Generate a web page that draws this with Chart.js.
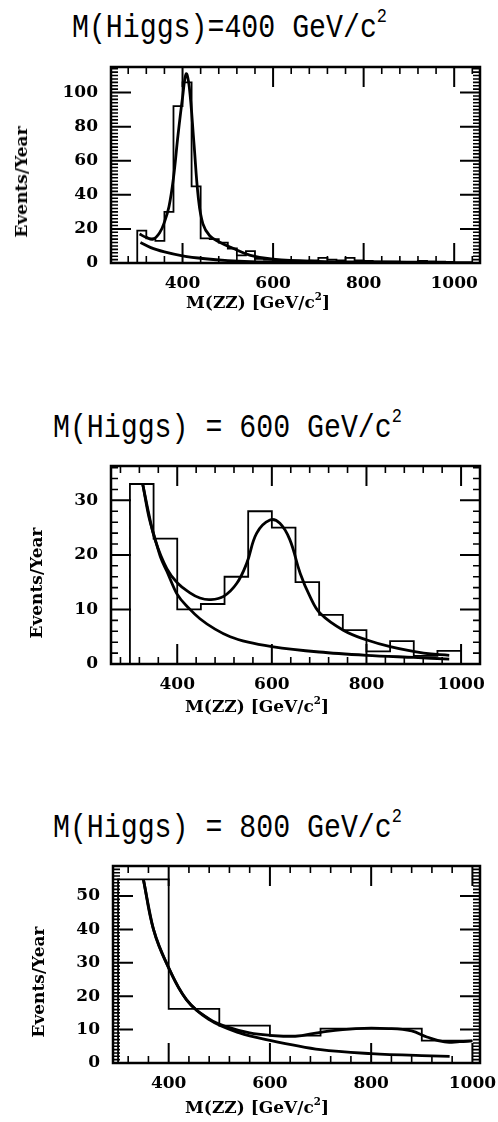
<!DOCTYPE html>
<html>
<head>
<meta charset="utf-8">
<script src="https://cdn.jsdelivr.net/npm/chart.js@4.4.1/dist/chart.umd.min.js"></script>
<style>
  html, body { margin: 0; padding: 0; background: #fff; }
  #page { position: relative; width: 498px; height: 1122px; overflow: hidden; background: #fff; }
  .panel { position: absolute; left: 0; width: 498px; height: 300px; }
  .titre { position: absolute; font-family: "Liberation Mono", "Courier New", monospace; font-size: 34px;
           line-height: 34px; white-space: nowrap; color: #000; transform: scaleX(0.83); transform-origin: 0 0; }
  .titre sup, .axe sup { font-size: 0.6em; vertical-align: baseline; position: relative; top: -0.75em; }
  .axe { position: absolute; font-family: "DejaVu Serif", serif; font-weight: bold; font-size: 17px;
         line-height: 20px; white-space: nowrap; color: #000; transform: translate(-50%, -50%); }
  .axe.vert { transform: translate(-50%, -50%) rotate(-90deg); }
</style>
</head>
<body>
<div id="page">
  <div class="titre" style="left:72px; top:11px;">M(Higgs)=400 GeV/c<sup>2</sup></div>
  <div class="titre" style="left:53px; top:411px;">M(Higgs) = 600 GeV/c<sup>2</sup></div>
  <div class="titre" style="left:53px; top:811px;">M(Higgs) = 800 GeV/c<sup>2</sup></div>

  <div class="panel" style="top:0px;"><canvas id="h400" width="498" height="300"></canvas></div>
  <div class="panel" style="top:400px;"><canvas id="h600" width="498" height="300"></canvas></div>
  <div class="panel" style="top:800px;"><canvas id="h800" width="498" height="300"></canvas></div>

  <div class="axe vert" style="left:21px; top:182px;">Events/Year</div>
  <div class="axe vert" style="left:36px; top:583px;">Events/Year</div>
  <div class="axe vert" style="left:38px; top:982px;">Events/Year</div>
  <div class="axe" style="left:258px; top:303px;">M(ZZ) [GeV/c<sup>2</sup>]</div>
  <div class="axe" style="left:257px; top:707px;">M(ZZ) [GeV/c<sup>2</sup>]</div>
  <div class="axe" style="left:257px; top:1108px;">M(ZZ) [GeV/c<sup>2</sup>]</div>
</div>

<script>
// ---- etiquettes des axes
const xLabels = [400, 600, 800, 1000];
const yLabels400 = [0, 20, 40, 60, 80, 100];
const yLabels600 = [0, 10, 20, 30];
const yLabels800 = [0, 10, 20, 30, 40, 50];

// ---- M(Higgs) = 400 : histogramme (bords des bins, 20 GeV) et ajustements
const edges400 = [300, 320, 340, 360, 380, 400, 420, 440, 460, 480, 500, 520, 540, 560, 580, 600, 620, 640, 660,
                  680, 700, 720, 740, 760, 780, 800, 820, 840, 860, 880, 900, 920, 940, 960, 980, 1000, 1020, 1040];
const counts400 = [19, 14.5, 13, 30, 92, 106, 45, 14.5, 14, 12, 8.5, 4.5, 7, 2.5, 2, 1.5, 1.5, 1.2, 1.2,
                   1.5, 3, 2, 1.5, 3, 1.5, 1.2, 1, 1, 1, 0.8, 0.8, 1.2, 1, 0.8, 0.6, 0.5, 0.5];
const fitMass400 = [305, 320, 335, 350, 360, 370, 380, 390, 400, 408, 415, 425, 435, 445, 460, 480, 510, 550, 600, 700, 800, 900, 1000];
const fitTotal400 = [17, 15, 14, 18, 24, 33, 50, 75, 97, 111, 103, 71, 38, 23, 16, 12.5, 8.8, 4.5, 2.2, 0.9, 0.6, 0.4, 0.3];
const bgMass400 = [307, 330, 360, 400, 450, 500, 550, 600, 700, 800, 900, 1000];
const bgFit400 = [12, 9, 6.5, 4.2, 2.5, 1.4, 0.8, 0.6, 0.4, 0.3, 0.2, 0.2];

// ---- M(Higgs) = 600 : bins de 50 GeV
const edges600 = [300, 350, 400, 450, 500, 550, 600, 650, 700, 750, 800, 850, 900, 950, 1000];
const counts600 = [33, 23, 10, 11, 16, 28, 25, 15, 9, 6.2, 2.3, 4.2, 1.5, 2.4];
const fitMass600 = [327, 340, 353, 378, 401, 426, 448, 470, 498, 526, 547, 568, 596, 617, 638, 660, 681, 702, 751, 801, 850, 921, 975];
const fitTotal600 = [33, 27.5, 22.8, 17.5, 14.8, 13.1, 12.1, 11.8, 12.4, 14.8, 18.5, 24, 26.4, 25.8, 22.8, 16.6, 12.3, 9.3, 6.2, 4.4, 3.2, 2, 1.6];
const bgMass600 = [327, 340, 353, 365, 378, 399, 425, 448, 480, 512, 550, 600, 700, 800, 900, 975];
const bgFit600 = [33, 27, 23, 19.5, 17, 12.9, 10.2, 8.3, 6.4, 5, 4, 3.2, 2.2, 1.6, 1.2, 0.9];

// ---- M(Higgs) = 800 : bins de 100 GeV
const edges800 = [300, 400, 500, 600, 700, 800, 900, 1000];
const counts800 = [55, 16.2, 11.2, 8.2, 10.3, 10.3, 6.7];
const fitMass800 = [350, 370, 400, 435, 480, 520, 560, 600, 650, 700, 770, 835, 880, 910, 945, 975, 1000];
const fitTotal800 = [55, 40, 28.5, 19, 13.2, 10.6, 9, 8.3, 8, 9.2, 10.3, 10.3, 9.6, 7.8, 6.3, 6.4, 6.6];
const bgMass800 = [350, 370, 400, 435, 480, 540, 600, 700, 800, 900, 955];
const bgFit800 = [55, 40, 28.5, 19, 13, 9, 6.8, 4, 2.8, 2.2, 2];

// HISTOGRAMME EN ESCALIER : on part de zero au premier bord
function histPoints(edges, counts) {
    let pts = [{x: edges[0], y: 0}];
    counts.forEach((c, i) => pts.push({x: edges[i], y: c}));
    pts.push({x: edges[edges.length - 1], y: counts[counts.length - 1]});
    return pts;
}
function zipPoints(xs, ys) {
    return xs.map((x, i) => ({x: x, y: ys[i]}));
}

// CADRE + PETITS TRAITS VERS L'INTERIEUR (sur les 4 cotes)
const cadre = {
    id: 'cadre',
    afterDatasetsDraw(chart, args, opts) {
        const {ctx, chartArea: a, scales: {x, y}} = chart;
        ctx.save();
        ctx.strokeStyle = '#000';
        const nx0 = Math.ceil(x.min / opts.xMinor), nx1 = Math.floor(x.max / opts.xMinor);
        for (let n = nx0; n <= nx1; n++) {
            const v = n * opts.xMinor;
            const px = x.getPixelForValue(v);
            const major = v % opts.xMajor === 0;
            const len = major ? opts.majorLen : opts.minorLen;
            ctx.lineWidth = major ? 2 : 1.6;
            ctx.beginPath();
            ctx.moveTo(px, a.bottom); ctx.lineTo(px, a.bottom - len);
            ctx.moveTo(px, a.top); ctx.lineTo(px, a.top + len);
            ctx.stroke();
        }
        const ny1 = Math.floor(y.max / opts.yMinor);
        for (let n = 0; n <= ny1; n++) {
            const v = n * opts.yMinor;
            const py = y.getPixelForValue(v);
            const major = v % opts.yMajor === 0;
            const len = major ? opts.majorLen : opts.minorLen;
            ctx.lineWidth = major ? 2 : 1.6;
            ctx.beginPath();
            ctx.moveTo(a.left, py); ctx.lineTo(a.left + len, py);
            ctx.moveTo(a.right, py); ctx.lineTo(a.right - len, py);
            ctx.stroke();
        }
        ctx.lineWidth = 2.5;
        ctx.strokeRect(a.left, a.top, a.right - a.left, a.bottom - a.top);
        ctx.restore();
    }
};

const tickFont = {family: 'DejaVu Serif', weight: 'bold', size: 17};

function creationPanel(id, cfg) {
    new Chart(document.getElementById(id), {
        type: 'line',
        data: {
            datasets: [
                { data: histPoints(cfg.edges, cfg.counts), stepped: true, borderColor: '#000', borderWidth: 1.8,
                  pointRadius: 0, fill: false },
                { data: zipPoints(cfg.fitMass, cfg.fitTotal), borderColor: '#000', borderWidth: 2.8,
                  tension: 0.4, pointRadius: 0, fill: false },
                { data: zipPoints(cfg.bgMass, cfg.bgFit), borderColor: '#000', borderWidth: 2.8,
                  cubicInterpolationMode: 'monotone', pointRadius: 0, fill: false },
            ]
        },
        options: {
            responsive: false,
            animation: false,
            events: [],
            layout: { padding: { top: cfg.padTop, right: 18, left: 0, bottom: 0 } },
            plugins: {
                legend: { display: false },
                tooltip: { enabled: false },
                cadre: { xMinor: 40, xMajor: 200, yMinor: cfg.yMinor, yMajor: cfg.yMajor, majorLen: 20, minorLen: 7 },
            },
            scales: {
                x: {
                    type: 'linear', min: cfg.xMin, max: cfg.xMax,
                    grid: { display: false, drawTicks: false },
                    border: { display: false },
                    ticks: { font: tickFont, color: '#000', padding: 10, autoSkip: false, maxRotation: 0,
                             callback: v => String(v) },
                    afterBuildTicks: s => { s.ticks = xLabels.map(v => ({value: v})); },
                    afterFit: s => { s.height = cfg.xHeight; s.paddingLeft = 0; s.paddingRight = 0; },
                },
                y: {
                    type: 'linear', min: 0, max: cfg.yMax,
                    grid: { display: false, drawTicks: false },
                    border: { display: false },
                    ticks: { font: tickFont, color: '#000', padding: 13, autoSkip: false,
                             callback: v => String(v) },
                    afterBuildTicks: s => { s.ticks = cfg.yLabels.map(v => ({value: v})); },
                    afterFit: s => { s.width = cfg.yWidth; s.paddingTop = 0; s.paddingBottom = 0; },
                },
            },
        },
        plugins: [cadre],
    });
}

creationPanel('h400', { edges: edges400, counts: counts400, fitMass: fitMass400, fitTotal: fitTotal400,
    bgMass: bgMass400, bgFit: bgFit400, yLabels: yLabels400, xMin: 242, xMax: 1057, yMax: 115,
    yMinor: 2, yMajor: 20, padTop: 67, xHeight: 37, yWidth: 111 });
creationPanel('h600', { edges: edges600, counts: counts600, fitMass: fitMass600, fitTotal: fitTotal600,
    bgMass: bgMass600, bgFit: bgFit600, yLabels: yLabels600, xMin: 260, xMax: 1040, yMax: 36.3,
    yMinor: 2, yMajor: 10, padTop: 66, xHeight: 36, yWidth: 111 });
creationPanel('h800', { edges: edges800, counts: counts800, fitMass: fitMass800, fitTotal: fitTotal800,
    bgMass: bgMass800, bgFit: bgFit800, yLabels: yLabels800, xMin: 290, xMax: 1015, yMax: 59,
    yMinor: 1, yMajor: 10, padTop: 66, xHeight: 37, yWidth: 113 });
</script>
</body>
</html>
